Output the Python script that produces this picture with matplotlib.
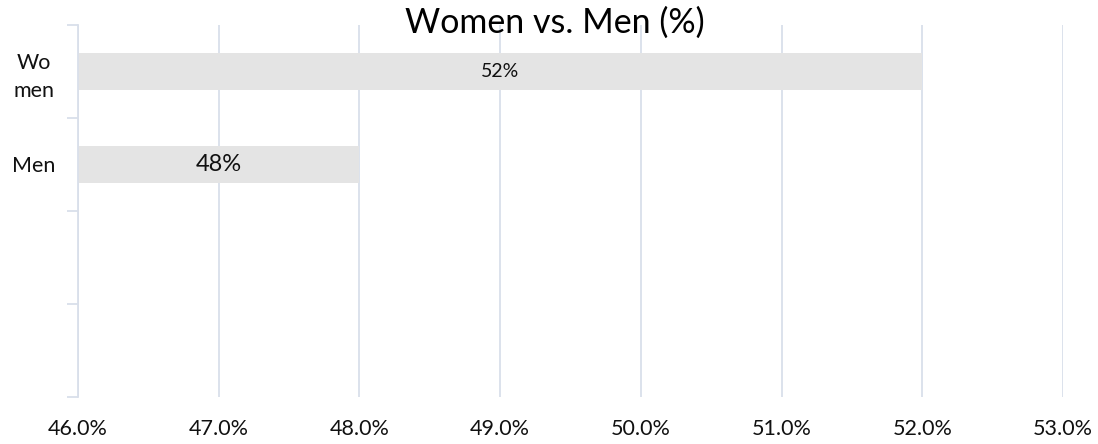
import matplotlib
matplotlib.use("Agg")
import matplotlib.pyplot as plt
import numpy as np

plt.rcParams['font.family'] = ['Lato', 'DejaVu Sans']

# share of women and men, in percent
categories = ["Wo\nmen", "Men"]
values = [52, 48]
bar_labels = ["52%", "48%"]
label_sizes = [14, 17]
n_slots = 4  # the category axis has room for four rows
x_ticks = [46, 47, 48, 49, 50, 51, 52, 53]

grid_color = "#D9DFEA"

fig = plt.figure(figsize=(10.98, 4.44), dpi=100)
ax = fig.add_axes([0.0710, 0.1059, 0.8971, 0.8378])

x_min = x_ticks[0]
ypos = np.arange(len(values)) + 0.5
ax.barh(ypos, np.array(values) - x_min, left=x_min, height=0.4,
        color="#E4E4E4", zorder=2)

for y, v, txt, fs in zip(ypos, values, bar_labels, label_sizes):
    ax.text((x_min + v) / 2, y, txt, ha="center", va="center",
            fontsize=fs, color="#111111", zorder=3)

ax.set_xlim(x_ticks[0], x_ticks[-1])
ax.set_ylim(n_slots, 0)

ax.set_xticks(x_ticks)
ax.set_xticklabels([f"{t:.1f}%" for t in x_ticks], fontsize=15.5, color="#111111")
ax.tick_params(axis="x", length=0, pad=16)
ax.grid(axis="x", color=grid_color, linewidth=1.3, zorder=0)

# tick marks sit between the categories, labels sit in the middle of each row
ax.set_yticks(np.arange(n_slots + 1))
ax.set_yticklabels([])
ax.tick_params(axis="y", which="major", length=8, width=1.3, color=grid_color)
ax.set_yticks(ypos, minor=True)
ax.set_yticklabels(categories, minor=True, fontsize=15.5, color="#111111",
                   ha="center", linespacing=1.45)
ax.tick_params(axis="y", which="minor", length=0, pad=32)

for side in ["top", "right", "bottom"]:
    ax.spines[side].set_visible(False)
ax.spines["left"].set_color(grid_color)
ax.spines["left"].set_linewidth(1.3)

fig.text(0.505, 1 - 33 / 444, "Women vs. Men (%)", ha="center",
         va="baseline", fontsize=24.5, color="#000000")

fig.savefig("out.png", dpi=100)
